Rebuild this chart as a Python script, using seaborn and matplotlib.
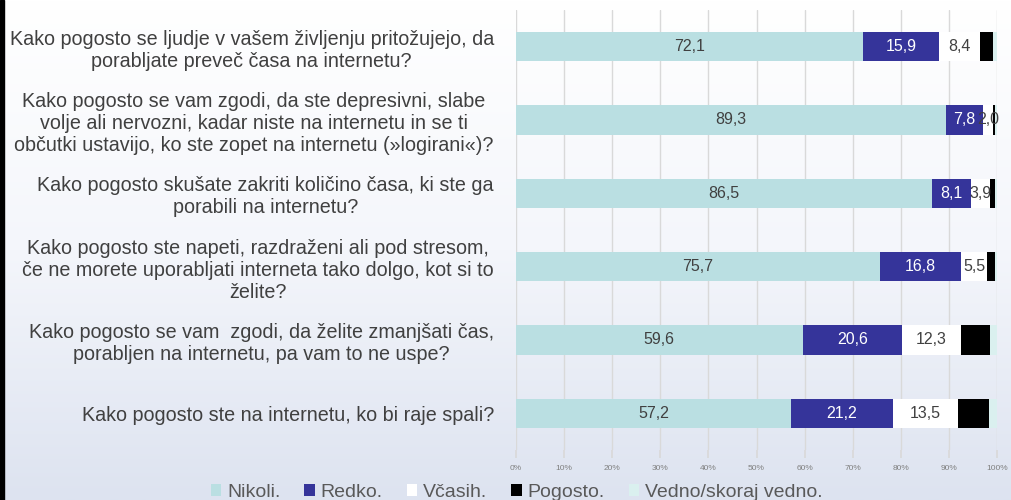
import numpy as np
import pandas as pd
import matplotlib
matplotlib.use("Agg")
import matplotlib.pyplot as plt
from matplotlib.patches import Patch, Rectangle
from matplotlib.colors import LinearSegmentedColormap
import seaborn as sns

questions = [
    "Kako pogosto se ljudje v vašem življenju pritožujejo, da\nporabljate preveč časa na internetu?",
    "Kako pogosto se vam zgodi, da ste depresivni, slabe\nvolje ali nervozni, kadar niste na internetu in se ti\nobčutki ustavijo, ko ste zopet na internetu (»logirani«)?",
    "Kako pogosto skušate zakriti količino časa, ki ste ga\nporabili na internetu?",
    "Kako pogosto ste napeti, razdraženi ali pod stresom,\nče ne morete uporabljati interneta tako dolgo, kot si to\nželite?",
    "Kako pogosto se vam  zgodi, da želite zmanjšati čas,\nporabljen na internetu, pa vam to ne uspe?",
    "Kako pogosto ste na internetu, ko bi raje spali?",
]
nikoli = [72.1, 89.3, 86.5, 75.7, 59.6, 57.2]
redko = [15.9, 7.8, 8.1, 16.8, 20.6, 21.2]
vcasih = [8.4, 2.0, 3.9, 5.5, 12.3, 13.5]
pogosto = [2.7, 0.5, 1.1, 1.5, 6.1, 6.5]
vedno = [0.9, 0.4, 0.4, 0.5, 1.4, 1.6]

series = ["Nikoli.", "Redko.", "Včasih.", "Pogosto.", "Vedno/skoraj vedno."]
colors = ["#badfe2", "#35349a", "#ffffff", "#000000", "#daf0ef"]
label_colors = ["#404040", "#ffffff", "#404040", None, None]
xticks = np.arange(0, 101, 10)

sns.set_theme(style="white")
plt.rcParams["font.family"] = ["Liberation Sans", "DejaVu Sans"]

df = pd.DataFrame({"q": questions, "Nikoli.": nikoli, "Redko.": redko,
                   "Včasih.": vcasih, "Pogosto.": pogosto,
                   "Vedno/skoraj vedno.": vedno})
cum = df[series].cumsum(axis=1)

fig = plt.figure(figsize=(10.11, 5.0), dpi=100)

# background gradient
bg = fig.add_axes([0, 0, 1, 1], zorder=-10)
grad = np.linspace(0, 1, 256).reshape(-1, 1)
cmap = LinearSegmentedColormap.from_list("bg", ["#ffffff", "#f4f6fb", "#dde3f0"])
bg.imshow(grad, aspect="auto", cmap=cmap, extent=[0, 1, 0, 1], origin="upper")
bg.add_patch(Rectangle((0, 0), 0.004, 1, color="black", transform=bg.transAxes))
bg.axis("off")

ax = fig.add_axes([516 / 1011, 0.10, 481 / 1011, 0.88])
ax.set_facecolor("none")

# stacked bars: draw cumulative totals from the back to the front
for s, c in reversed(list(zip(series, colors))):
    sns.barplot(x=cum[s], y=df["q"], color=c, orient="h", width=0.4,
                saturation=1, ax=ax, edgecolor="none", zorder=3)

for i in range(len(questions)):
    for j, s in enumerate(series):
        if label_colors[j] is None:
            continue
        val = df[s].iloc[i]
        center = cum[s].iloc[i] - val / 2
        ax.text(center, i, f"{val:.1f}".replace(".", ","), ha="center", va="center",
                fontsize=11.5, color=label_colors[j], zorder=5)

ax.set_xlim(0, 100)
ax.set_ylim(5.5, -0.5)
ax.set_xticks(xticks)
ax.set_xticklabels([f"{t}%" for t in xticks], fontsize=6, color="#808080")
ax.grid(axis="x", color="#d9d9d9", linewidth=1, zorder=0)
ax.set_axisbelow(True)
ax.tick_params(axis="x", length=6, color="#d9d9d9", pad=5, bottom=True)
ax.tick_params(axis="y", length=0, pad=16)
for lbl in ax.get_yticklabels():
    lbl.set_fontsize(14.2)
    lbl.set_color("#404040")
    lbl.set_multialignment("center")
for sp in ax.spines.values():
    sp.set_visible(False)
ax.set_xlabel("")
ax.set_ylabel("")

handles = [Patch(facecolor=c, edgecolor="none") for c in colors]
fig.legend(handles, series, loc="center", bbox_to_anchor=(0.511, 0.015), ncol=5,
           frameon=False, fontsize=14, handlelength=0.55, handleheight=0.55,
           handletextpad=0.3, columnspacing=1.22, labelcolor="#595959")

fig.savefig("out.png", dpi=100)
